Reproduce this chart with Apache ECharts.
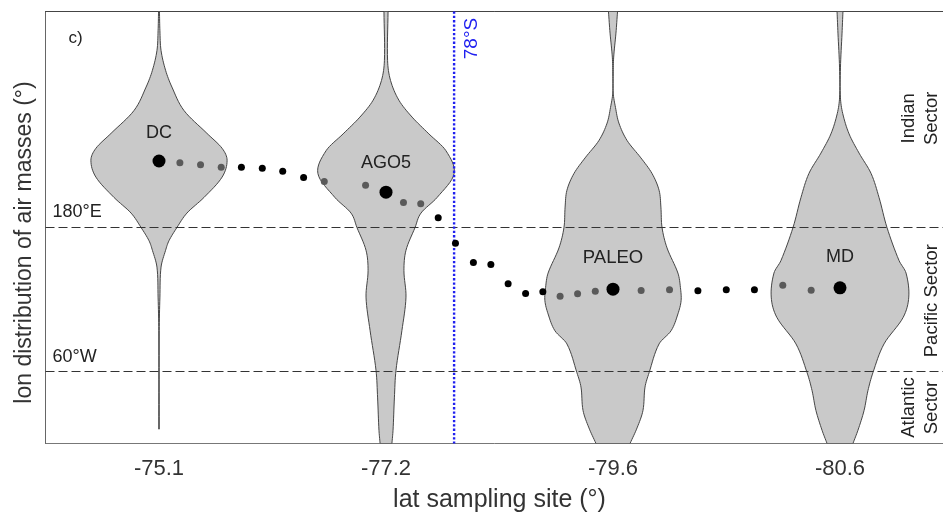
<html>
<head>
    <meta charset="utf-8">
    <title>lon distribution of air masses</title>
    <script src="https://cdn.jsdelivr.net/npm/echarts@6/dist/echarts.min.js"></script>
    <style>html,body{margin:0;padding:0;background:#fff;}</style>
</head>
<body>
    <div id="main" style="width:943px;height:513px"></div>
    <script type="text/javascript">
        // tick labels, one per sampling site
        var siteLabels = ['-75.1', '-77.2', '-79.6', '-80.6'];

        // violins: longitude (0-360, 180 = 180E, 300 = 60W) and half width in site units
        var dcLon = [0, 16, 32.5, 49, 63, 82.5, 101.5, 114, 124, 138, 155, 168, 180, 191, 199, 213, 238, 266, 348];
        var dcHalf = [.002, .004, .009, .029, .057, .110, .211, .278, .300, .278, .198, .123, .079, .044, .029, .009, .004, .001, .001];
        var agoLon = [0, 41, 57.5, 74, 88, 102, 116, 135, 155, 168, 180, 199, 216, 238, 266, 299, 322, 349, 360];
        var agoHalf = [.009, .007, .020, .057, .115, .189, .264, .300, .225, .154, .128, .088, .079, .088, .070, .044, .037, .031, .026];
        var paleoLon = [0, 18, 38, 52, 68, 80, 93, 107.5, 122, 135, 149, 163, 180, 197, 218, 230, 241, 252, 266, 277, 301, 313, 332.5, 347, 360];
        var paleoHalf = [.020, .013, .003, .001, .001, .011, .026, .062, .123, .172, .203, .211, .216, .238, .286, .297, .300, .286, .256, .203, .159, .141, .132, .106, .075];
        var mdLon = [0, 18, 47, 72, 85, 102, 118, 135, 155, 180, 207.5, 218, 238, 255, 277, 301, 316, 332.5, 349, 360];
        var mdHalf = [.013, .009, .002, .002, .012, .040, .084, .137, .172, .207, .260, .291, .303, .278, .194, .145, .123, .106, .079, .057];

        // dots: [site position, lon]
        var bigDots = [[1, 124.6], [2, 150.6], [3, 231.4], [4, 230.3]];
        var grayDots = [[1.092, 126.1], [1.183, 127.8], [1.274, 129.8], [1.728, 141.7], [1.910, 144.8], [2.077, 159.2], [2.153, 160.3],
            [2.767, 237.3], [2.844, 235.3], [2.922, 233.1], [3.124, 232.5], [3.249, 231.9], [3.748, 228.1], [3.873, 232.3]];
        var blackDots = [[1.363, 129.8], [1.455, 130.6], [1.545, 133.1], [1.637, 138.3], [2.230, 171.9], [2.306, 193.1], [2.385, 209.2],
            [2.462, 210.8], [2.538, 226.9], [2.615, 235], [2.691, 233.6], [3.374, 232.8], [3.499, 231.9], [3.623, 231.9]];

        var sectorLines = [180, 300];
        var line78S = 2.30;

        // texts: [x, lon, text, rotate, align, size, colour]
        var notes = [
            [0.601, 22, 'c)', 0, 'left', 17, '#222'],
            [1, 101, 'DC', 0, 'center', 18, '#222'],
            [2, 126, 'AGO5', 0, 'center', 18, '#222'],
            [3, 205, 'PALEO', 0, 'center', 18.5, '#222'],
            [4, 205, 'MD', 0, 'center', 18, '#222'],
            [0.531, 167.5, '180°E', 0, 'left', 18, '#222'],
            [0.531, 288, '60°W', 0, 'left', 18, '#222'],
            [2.377, 22.5, '78°S', 90, 'center', 19, '#2020f0'],
            [4.354, 89, 'Indian\nSector', 90, 'center', 18.5, '#222'],
            [4.403, 241, 'Pacific Sector', 90, 'center', 18.5, '#222'],
            [4.354, 330, 'Atlantic\nSector', 90, 'center', 18.5, '#222']
        ];

        var violins = [[dcLon, dcHalf], [agoLon, agoHalf], [paleoLon, paleoHalf], [mdLon, mdHalf]];
        var font = '"Liberation Sans", Arial, sans-serif';

        var myChart = echarts.init(document.getElementById('main'), null, {renderer: 'canvas'});

        // cubic through the read widths, so the outline has no kinks
        function outline(lon, half) {
            var n = lon.length, m = [], out = [], i, k;
            for (i = 0; i < n; i++) {
                var l = Math.max(i - 1, 0), r = Math.min(i + 1, n - 1);
                m.push((half[r] - half[l]) / (lon[r] - lon[l]));
            }
            for (i = 0; i < n - 1; i++) {
                var h = lon[i + 1] - lon[i];
                for (k = 0; k < 8; k++) {
                    var t = k / 8, t2 = t * t, t3 = t2 * t;
                    var w = (2 * t3 - 3 * t2 + 1) * half[i] + (t3 - 2 * t2 + t) * h * m[i] +
                        (-2 * t3 + 3 * t2) * half[i + 1] + (t3 - t2) * h * m[i + 1];
                    out.push([lon[i] + t * h, Math.max(w, 0.0005)]);
                }
            }
            out.push([lon[n - 1], half[n - 1]]);
            return out;
        }

        function violinItem(params, api) {
            var site = api.value(0);
            var v = violins[site - 1];
            var line = outline(v[0], v[1]);
            var pts = [], i;
            for (i = 0; i < line.length; i++) pts.push(api.coord([site - line[i][1], line[i][0]]));
            for (i = line.length - 1; i >= 0; i--) pts.push(api.coord([site + line[i][1], line[i][0]]));
            return {
                type: 'polygon',
                shape: {points: pts},
                style: {fill: '#c9c9c9', stroke: '#454545', lineWidth: 1}
            };
        }

        var option = {
            animation: false,
            backgroundColor: '#fff',
            textStyle: {fontFamily: font},
            grid: {left: 45.5, top: 11.5, width: 908, height: 432, outerBoundsMode: 'none', show: true, borderColor: '#777', borderWidth: 1, backgroundColor: 'transparent'},
            xAxis: [
                {
                    type: 'category',
                    data: siteLabels,
                    position: 'bottom',
                    name: 'lat sampling site (°)',
                    nameLocation: 'middle',
                    nameGap: 44,
                    nameTextStyle: {fontSize: 25, color: '#333', fontFamily: font},
                    axisLine: {lineStyle: {color: '#444', width: 1}},
                    axisTick: {show: false},
                    axisLabel: {fontSize: 22, color: '#333', margin: 14, fontFamily: font}
                },
                {type: 'value', min: 0.5, max: 4.5, show: false}
            ],
            yAxis: {
                type: 'value',
                inverse: true,
                min: 0,
                max: 360,
                name: 'lon distribution of air masses (°)',
                nameLocation: 'middle',
                nameGap: 9,
                nameTextStyle: {fontSize: 23, color: '#333', fontFamily: font, padding: [0, 30, 0, 0]},
                axisLine: {show: true, lineStyle: {color: '#666', width: 1}},
                axisTick: {show: false},
                axisLabel: {show: false},
                splitLine: {show: false}
            },
            series: [
                {
                    type: 'custom',
                    xAxisIndex: 1,
                    clip: true,
                    z: 2,
                    renderItem: violinItem,
                    data: [[1], [2], [3], [4]],
                    encode: {x: 0},
                    silent: true
                }
            ]
        };

        // sector borders
        sectorLines.forEach(function (lon) {
            option.series.push({
                type: 'line', xAxisIndex: 1, z: 3, symbol: 'none', silent: true,
                data: [[0.5, lon], [4.5, lon]],
                lineStyle: {color: '#333', width: 1, type: [9, 4]}
            });
        });
        // 78S line
        option.series.push({
            type: 'line', xAxisIndex: 1, z: 3, symbol: 'none', silent: true,
            data: [[line78S, 0], [line78S, 360]],
            lineStyle: {color: '#2020f0', width: 2.4, type: [2.3, 2]}
        });
        option.series.push({type: 'scatter', xAxisIndex: 1, z: 4, symbolSize: 7, data: grayDots, itemStyle: {color: '#5a5a5a', opacity: 1}, silent: true});
        option.series.push({type: 'scatter', xAxisIndex: 1, z: 4, symbolSize: 7, data: blackDots, itemStyle: {color: '#000', opacity: 1}, silent: true});
        option.series.push({type: 'scatter', xAxisIndex: 1, z: 4, symbolSize: 13, data: bigDots, itemStyle: {color: '#000', opacity: 1}, silent: true});
        // text notes
        option.series.push({
            type: 'scatter', xAxisIndex: 1, z: 5, symbolSize: 1, silent: true,
            itemStyle: {opacity: 0},
            data: notes.map(function (n) {
                return {
                    value: [n[0], n[1]],
                    label: {
                        show: true, position: 'inside', formatter: n[2], rotate: n[3], align: n[4], verticalAlign: 'middle',
                        fontSize: n[5], color: n[6], opacity: 1, lineHeight: 23, fontFamily: font
                    }
                };
            })
        });

        myChart.setOption(option);
    </script>
</body>
</html>
